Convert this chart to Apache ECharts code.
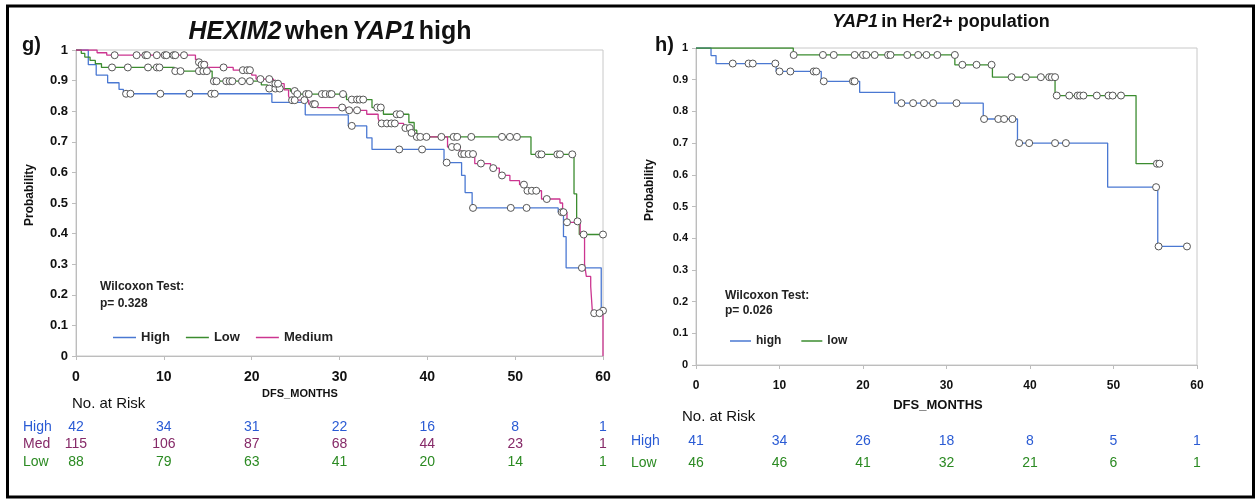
<!DOCTYPE html>
<html>
<head>
<meta charset="utf-8">
<script src="https://cdn.jsdelivr.net/npm/echarts@6/dist/echarts.min.js"></script>
<style>
html, body { margin: 0; padding: 0; background: #fff; }
#main { width: 1259px; height: 499px; }
</style>
</head>
<body>
<div id="main"></div>
<script>
// g) HEXIM2 when YAP1 high -- step points [month, survival]
var gHighCurve = [[0,1],[1.4,0.952],[2.3,0.918],[3.6,0.893],[4.9,0.871],[5.4,0.857],[22.3,0.829],[26.1,0.788],[31.0,0.752],[33.1,0.713],[33.7,0.675],[41.9,0.632],[43.9,0.59],[44.3,0.534],[45.1,0.484],[54.9,0.47],[55.5,0.39],[55.8,0.288],[59.8,0.14],[60,0.14]];
var gHighCens = [[5.7,0.857],[6.2,0.857],[9.6,0.857],[12.9,0.857],[15.4,0.857],[15.8,0.857],[31.4,0.752],[36.8,0.675],[39.4,0.675],[42.2,0.632],[45.2,0.484],[49.5,0.484],[51.3,0.484],[55.3,0.47],[57.6,0.288],[60,0.148]];

var gLowCurve = [[0,1],[0.6,0.989],[1.0,0.977],[1.6,0.966],[2.2,0.955],[2.9,0.943],[11.2,0.931],[15.5,0.898],[21.1,0.886],[21.8,0.874],[24.4,0.866],[25.0,0.856],[30.8,0.838],[33.7,0.812],[35.0,0.79],[37.9,0.763],[38.5,0.738],[38.8,0.716],[51.8,0.659],[56.7,0.53],[57.0,0.44],[57.3,0.397],[60,0.397]];
var gLowCens = [[4.1,0.943],[5.9,0.943],[8.2,0.943],[9.2,0.943],[9.5,0.943],[11.3,0.931],[11.9,0.931],[14.0,0.931],[14.5,0.931],[14.9,0.931],[15.7,0.898],[16.0,0.898],[17.1,0.898],[17.5,0.898],[17.8,0.898],[18.9,0.898],[19.8,0.898],[22.0,0.874],[22.7,0.874],[23.2,0.874],[24.9,0.866],[25.2,0.856],[26.2,0.856],[26.5,0.856],[28.0,0.856],[28.4,0.856],[28.9,0.856],[29.1,0.856],[30.4,0.856],[31.4,0.838],[32.0,0.838],[32.3,0.838],[32.7,0.838],[34.3,0.812],[34.7,0.812],[36.5,0.79],[36.9,0.79],[38.8,0.716],[39.2,0.716],[39.9,0.716],[41.6,0.716],[43.0,0.716],[43.4,0.716],[45.0,0.716],[48.5,0.716],[49.4,0.716],[50.2,0.716],[52.7,0.659],[53.0,0.659],[54.8,0.659],[55.1,0.659],[56.5,0.659],[57.1,0.44],[60,0.397]];

var gMedCurve = [[0,1],[2.4,0.991],[3.5,0.983],[13.6,0.969],[13.9,0.96],[14.9,0.943],[17.9,0.934],[20.0,0.918],[20.5,0.905],[22.5,0.89],[23.7,0.87],[24.2,0.85],[24.4,0.836],[26.5,0.823],[27.5,0.812],[30.8,0.803],[33.1,0.79],[34.4,0.777],[34.6,0.76],[37.3,0.745],[38.2,0.729],[38.6,0.716],[42.3,0.683],[43.7,0.66],[45.4,0.629],[47.2,0.614],[48.2,0.59],[49.4,0.573],[50.5,0.56],[51.2,0.54],[53.0,0.513],[55.1,0.5],[55.4,0.47],[55.9,0.437],[57.4,0.397],[57.9,0.30],[58.1,0.26],[58.6,0.227],[58.8,0.14],[60,0]];
var gMedCens = [[4.4,0.983],[6.9,0.983],[7.9,0.983],[8.1,0.983],[9.2,0.983],[10.1,0.983],[10.3,0.983],[11.1,0.983],[11.3,0.983],[12.3,0.983],[14.0,0.96],[14.3,0.952],[14.6,0.952],[16.8,0.943],[19.0,0.934],[19.5,0.934],[19.8,0.934],[21.0,0.905],[22.0,0.905],[22.7,0.89],[23.0,0.89],[24.6,0.836],[24.9,0.836],[26.0,0.836],[27.0,0.823],[27.2,0.823],[30.3,0.812],[31.1,0.803],[32.0,0.803],[34.8,0.76],[35.4,0.76],[35.9,0.76],[36.3,0.76],[37.5,0.745],[38.0,0.745],[38.2,0.729],[42.8,0.683],[43.4,0.683],[43.9,0.66],[44.2,0.66],[44.7,0.66],[45.2,0.66],[46.1,0.629],[47.5,0.614],[48.5,0.59],[51.0,0.56],[51.4,0.54],[51.9,0.54],[52.4,0.54],[53.6,0.513],[55.5,0.47],[55.9,0.437],[57.8,0.397],[59.0,0.14],[59.6,0.14]];

// h) YAP1 in Her2+ population
var hHighCurve = [[0,1],[1.8,0.976],[2.4,0.951],[9.6,0.926],[15.0,0.895],[19.6,0.86],[23.8,0.826],[34.4,0.776],[38.5,0.70],[49.3,0.561],[55.3,0.374],[58.8,0.374]];
var hHighCens = [[4.4,0.951],[6.3,0.951],[6.8,0.951],[9.5,0.951],[10.0,0.926],[11.3,0.926],[14.1,0.926],[14.4,0.926],[15.3,0.895],[18.8,0.895],[19.0,0.895],[24.6,0.826],[26.0,0.826],[27.3,0.826],[28.4,0.826],[31.2,0.826],[34.5,0.776],[36.2,0.776],[36.9,0.776],[37.9,0.776],[38.7,0.70],[39.9,0.70],[43.0,0.70],[44.3,0.70],[55.1,0.561],[55.4,0.374],[58.8,0.374]];

var hLowCurve = [[0,1],[11.65,0.978],[31.0,0.947],[35.5,0.908],[43.0,0.85],[52.7,0.635],[55.6,0.635]];
var hLowCens = [[11.7,0.978],[15.2,0.978],[16.5,0.978],[19.0,0.978],[20.0,0.978],[20.4,0.978],[21.4,0.978],[23.0,0.978],[23.3,0.978],[25.3,0.978],[26.6,0.978],[27.6,0.978],[28.9,0.978],[31.0,0.978],[31.9,0.947],[33.6,0.947],[35.4,0.947],[37.8,0.908],[39.5,0.908],[41.3,0.908],[42.3,0.908],[42.6,0.908],[43.0,0.908],[43.2,0.85],[44.7,0.85],[45.7,0.85],[46.0,0.85],[46.4,0.85],[48.0,0.85],[49.4,0.85],[49.9,0.85],[50.9,0.85],[55.2,0.635],[55.5,0.635]];

// numbers at risk
var riskTimes = [0, 10, 20, 30, 40, 50, 60];
var gRows = ['High', 'Med', 'Low'];
var gHighRisk = [42, 34, 31, 22, 16, 8, 1];
var gMedRisk = [115, 106, 87, 68, 44, 23, 1];
var gLowRisk = [88, 79, 63, 41, 20, 14, 1];
var hRows = ['High', 'Low'];
var hHighRisk = [41, 34, 26, 18, 8, 5, 1];
var hLowRisk = [46, 46, 41, 32, 21, 6, 1];

var BLUE = '#4a78d2', GREEN = '#3b8c2f', MAG = '#cc3590';
var T_BLUE = '#2a5bd4', T_MED = '#862a68', T_GREEN = '#2b8a22';
var rowColor = { High: T_BLUE, Med: T_MED, Low: T_GREEN };
var FONT = 'Liberation Sans, Arial, sans-serif';

var chart = echarts.init(document.getElementById('main'));

function curve(name, data, color, xi) {
  return {
    name: name, type: 'line', step: 'end', data: data,
    xAxisIndex: xi, yAxisIndex: xi,
    symbol: 'none', lineStyle: { color: color, width: 1.3 },
    itemStyle: { color: color }, z: 2
  };
}
function cens(name, data, xi) {
  return {
    name: name, type: 'scatter', data: data,
    xAxisIndex: xi, yAxisIndex: xi,
    symbol: 'circle', symbolSize: 7,
    itemStyle: { color: '#fff', borderColor: '#555', borderWidth: 1, opacity: 1 }, z: 3
  };
}
function riskSeries(row, counts, xi) {
  return {
    type: 'scatter', xAxisIndex: xi, yAxisIndex: xi, silent: true,
    symbolSize: 1, itemStyle: { color: 'rgba(0,0,0,0)', opacity: 1 },
    data: riskTimes.map(function (t, i) { return [t, row, counts[i]]; }),
    label: {
      show: true, position: 'inside', color: rowColor[row], fontSize: 14, fontFamily: FONT,
      formatter: function (p) { return p.value[2]; }
    }
  };
}
function valAxisX(gi, size, margin) {
  return {
    gridIndex: gi, type: 'value', min: 0, max: 60, interval: 10,
    axisLine: { lineStyle: { color: '#bdbdbd' } },
    axisTick: { length: 4, lineStyle: { color: '#bdbdbd' } },
    splitLine: { show: false },
    axisLabel: { color: '#111', fontWeight: 'bold', fontSize: size, margin: margin, fontFamily: FONT }
  };
}
function valAxisY(gi, size) {
  return {
    gridIndex: gi, type: 'value', min: 0, max: 1, interval: 0.1,
    axisLine: { show: true, lineStyle: { color: '#bdbdbd' } },
    axisTick: { show: true, length: 4, lineStyle: { color: '#bdbdbd' } },
    splitLine: { show: false },
    axisLabel: { color: '#111', fontWeight: 'bold', fontSize: size, margin: 8, fontFamily: FONT }
  };
}
function rowAxisY(gi, rows, margin) {
  return {
    gridIndex: gi, type: 'category', data: rows, inverse: true,
    axisLine: { show: false }, axisTick: { show: false },
    axisLabel: {
      interval: 0, align: 'left', margin: margin,
      formatter: function (v) { return '{' + v + '|' + v + '}'; },
      rich: {
        High: { color: T_BLUE, fontSize: 14, fontFamily: FONT },
        Med: { color: T_MED, fontSize: 14, fontFamily: FONT },
        Low: { color: T_GREEN, fontSize: 14, fontFamily: FONT }
      }
    }
  };
}
function hiddenX(gi) {
  return { gridIndex: gi, type: 'value', min: 0, max: 60, show: false };
}
function label(x, y, text, size, bold, color, extra) {
  var st = { text: text, fontSize: size, fontWeight: bold ? 'bold' : 'normal', fontFamily: FONT, fill: color || '#111', verticalAlign: 'middle' };
  var g = { type: 'text', x: x, y: y, style: st, silent: true };
  if (extra) { for (var k in extra) { if (k === 'rotation') g.rotation = extra[k]; else st[k] = extra[k]; } }
  return g;
}

var option = {
  animation: false,
  backgroundColor: '#fff',
  textStyle: { fontFamily: FONT },
  grid: [
    { left: 76, top: 50, width: 527, height: 306, show: true, borderColor: '#c8c8c8', borderWidth: 1 },
    { left: 696, top: 48, width: 501, height: 317, show: true, borderColor: '#c8c8c8', borderWidth: 1 },
    { left: 76, top: 418, width: 527, height: 53 },
    { left: 696, top: 430, width: 501, height: 44 }
  ],
  xAxis: [valAxisX(0, 14, 14), valAxisX(1, 12, 15), hiddenX(2), hiddenX(3)],
  yAxis: [
    valAxisY(0, 13), valAxisY(1, 11),
    rowAxisY(2, gRows, 53),
    rowAxisY(3, hRows, 65)
  ],
  legend: [
    {
      data: ['High', 'Low', 'Medium'], left: 108, top: 326,
      icon: 'rect', itemWidth: 23, itemHeight: 1.5, itemGap: 16,
      textStyle: { fontWeight: 'bold', fontSize: 13, color: '#222', fontFamily: FONT }
    },
    {
      data: ['high', 'low'], left: 725, top: 330,
      icon: 'rect', itemWidth: 21, itemHeight: 1.5, itemGap: 20,
      textStyle: { fontWeight: 'bold', fontSize: 12, color: '#222', fontFamily: FONT }
    }
  ],
  series: [
    curve('High', gHighCurve, BLUE, 0),
    curve('Low', gLowCurve, GREEN, 0),
    curve('Medium', gMedCurve, MAG, 0),
    cens('High cens', gHighCens, 0),
    cens('Low cens', gLowCens, 0),
    cens('Medium cens', gMedCens, 0),
    curve('high', hHighCurve, BLUE, 1),
    curve('low', hLowCurve, GREEN, 1),
    cens('high cens', hHighCens, 1),
    cens('low cens', hLowCens, 1),
    riskSeries('High', gHighRisk, 2),
    riskSeries('Med', gMedRisk, 2),
    riskSeries('Low', gLowRisk, 2),
    riskSeries('High', hHighRisk, 3),
    riskSeries('Low', hLowRisk, 3)
  ],
  graphic: [
    { type: 'rect', shape: { x: 7.5, y: 6, width: 1246, height: 491 }, style: { fill: 'none', stroke: '#000', lineWidth: 3 }, silent: true },
    { type: 'text', x: 330, y: 32, silent: true, style: {
        text: '{i|HEXIM2} {b|when} {i|YAP1} {b|high}', align: 'center', verticalAlign: 'middle',
        rich: {
          i: { fontStyle: 'italic', fontWeight: 'bold', fontSize: 25, fontFamily: FONT, fill: '#111' },
          b: { fontWeight: 'bold', fontSize: 25, fontFamily: FONT, fill: '#111' }
        } } },
    { type: 'text', x: 941, y: 22, silent: true, style: {
        text: '{i|YAP1} {b|in Her2+ population}', align: 'center', verticalAlign: 'middle',
        rich: {
          i: { fontStyle: 'italic', fontWeight: 'bold', fontSize: 18, fontFamily: FONT, fill: '#111' },
          b: { fontWeight: 'bold', fontSize: 18, fontFamily: FONT, fill: '#111' }
        } } },
    label(22, 45, 'g)', 20, true),
    label(655, 45, 'h)', 20, true),
    label(30, 195, 'Probability', 12, true, '#111', { rotation: Math.PI / 2, align: 'center' }),
    label(650, 190, 'Probability', 12, true, '#111', { rotation: Math.PI / 2, align: 'center' }),
    label(300, 394, 'DFS_MONTHS', 11, true, '#111', { align: 'center' }),
    label(938, 405, 'DFS_MONTHS', 13, true, '#111', { align: 'center' }),
    label(72, 404, 'No. at Risk', 15, false),
    label(682, 417, 'No. at Risk', 15, false),
    label(100, 287, 'Wilcoxon Test:', 12, true, '#222'),
    label(100, 304, 'p= 0.328', 12, true, '#222'),
    label(725, 296, 'Wilcoxon Test:', 12, true, '#222'),
    label(725, 311, 'p= 0.026', 12, true, '#222')
  ]
};

chart.setOption(option);
</script>
</body>
</html>
